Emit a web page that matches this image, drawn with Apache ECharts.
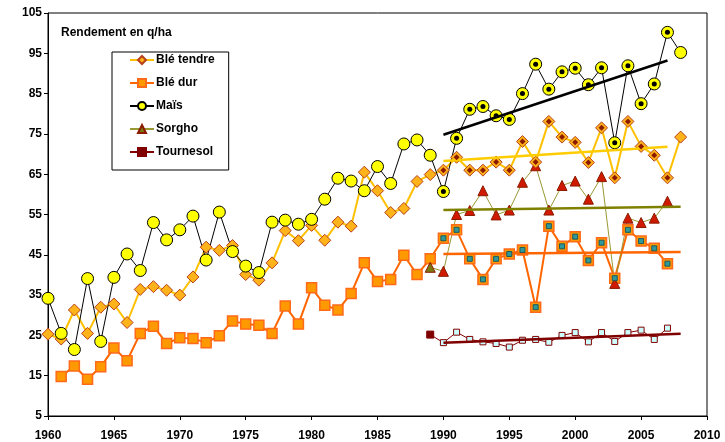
<!DOCTYPE html>
<html>
<head>
<meta charset="utf-8">
<script src="https://cdn.jsdelivr.net/npm/echarts@6/dist/echarts.min.js"></script>
<style>
  html, body { margin: 0; padding: 0; background: #fff; }
  #chart { width: 725px; height: 442px; }
</style>
</head>
<body>
<div id="chart"></div>
<script>
// années 1960 -> 2008
var firstYear = 1960;
var bleTendre = [25.3, 24.1, 31.3, 25.5, 32.0, 32.8, 28.2, 36.4, 37.1, 36.2,
  35.0, 39.5, 46.9, 46.1, 47.3, 40.1, 38.7, 43.0, 51.0, 48.5,
  52.3, 48.6, 53.1, 52.1, 65.5, 60.9, 55.5, 56.5, 63.2, 64.9,
  66.0, 69.2, 66.0, 66.0, 68.0, 66.0, 73.1, 68.0, 78.1, 74.2,
  72.9, 67.9, 76.5, 64.1, 78.1, 71.9, 69.7, 64.1, 74.2];
var bleDur = [null, 14.8, 17.4, 14.1, 17.2, 21.9, 18.7, 25.5, 27.3, 23.0,
  24.4, 24.2, 23.2, 24.9, 28.6, 27.8, 27.5, 25.5, 32.3, 27.8,
  36.8, 32.5, 31.3, 35.4, 43.0, 38.4, 38.9, 44.9, 40.1, 44.0,
  49.1, 51.2, 44.0, 38.9, 44.0, 45.2, 46.2, 32.0, 52.1, 47.1,
  49.5, 43.6, 48.0, 39.2, 51.2, 48.4, 46.6, 42.8];
var mais = [34.2, 25.5, 21.5, 39.1, 23.5, 39.4, 45.2, 41.1, 53.0, 48.7,
  51.2, 54.6, 43.7, 55.6, 45.8, 42.2, 40.6, 53.1, 53.6, 52.6,
  53.8, 58.8, 64.0, 63.3, 60.9, 66.9, 62.7, 72.5, 73.5, 69.7,
  60.7, 73.9, 81.1, 81.8, 79.5, 78.6, 85.0, 92.3, 86.1, 90.4,
  91.3, 87.2, 91.4, 72.8, 91.9, 82.5, 87.4, 100.2, 95.2];
// sorgho et tournesol à partir de 1989
var startLate = 1989;
var sorgho = [41.9, 40.9, 55.0, 56.0, 60.9, 54.9, 56.1, 63.0, 67.1, 56.1,
  62.2, 63.3, 58.8, 64.4, 37.9, 54.1, 53.0, 54.1, 58.3];
var tournesol = [25.2, 23.2, 25.8, 24.0, 23.4, 23.0, 22.1, 23.8, 24.0, 23.3,
  25.0, 25.7, 23.4, 25.7, 23.5, 25.7, 26.3, 24.0, 26.8];

// droites de tendance 1990 ->
var maisTrend = [[1990, 74.8], [2007, 93.2]];
var bleTendreTrend = [[1990, 68.3], [2007, 71.8]];
var bleDurTrend = [[1990, 45.2], [2008, 45.7]];
var sorghoTrend = [[1990, 56.1], [2008, 56.9]];
var tournesolTrend = [[1990, 23.2], [2008, 25.4]];

function pairs(start, arr) {
  return arr.map(function (v, i) { return [start + i, v]; });
}
// points de 1990 à 2007 (marqueurs "centre")
function late(start, arr) {
  return pairs(start, arr).filter(function (p) { return p[0] >= 1990 && p[0] <= 2007 && p[1] != null; });
}

var myChart = echarts.init(document.getElementById('chart'));

function trend(data, color, width) {
  return {
    type: 'line', data: data, symbol: 'none', silent: true,
    lineStyle: { color: color, width: width }, z: 4, animation: false
  };
}
function dots(data, symbol, size, color, border) {
  return {
    type: 'scatter', data: data, symbol: symbol, symbolSize: size, silent: true,
    itemStyle: { color: color, borderColor: border, borderWidth: border ? 1 : 0, opacity: 1 },
    z: 6, animation: false
  };
}

myChart.setOption({
  animation: false,
  backgroundColor: '#fff',
  textStyle: { fontFamily: 'Liberation Sans, Arial, sans-serif' },
  title: {
    text: 'Rendement en q/ha',
    left: 56, top: 22,
    textStyle: { fontSize: 12, fontWeight: 'bold', color: '#000' }
  },
  legend: {
    data: ['Blé tendre', 'Blé dur', 'Maïs', 'Sorgho', 'Tournesol'],
    orient: 'vertical',
    left: 112, top: 52,
    padding: [1, 14, 11, 17],
    itemGap: 9,
    itemWidth: 24, itemHeight: 10,
    backgroundColor: '#fff',
    borderColor: '#000', borderWidth: 1,
    textStyle: { fontSize: 12, fontWeight: 'bold', color: '#000', padding: [0, 0, 0, -3], lineHeight: 14 }
  },
  grid: {
    left: 48, top: 13, right: 18, bottom: 26,
    show: true, borderColor: '#000', borderWidth: 1
  },
  xAxis: {
    type: 'value', min: 1960, max: 2010, interval: 5,
    axisLine: { lineStyle: { color: '#000', width: 1 } },
    axisTick: { show: true, length: 4, lineStyle: { color: '#000' } },
    axisLabel: { color: '#000', fontSize: 12, fontWeight: 'bold', margin: 14,
      formatter: function (v) { return String(v); } },
    splitLine: { show: false }
  },
  yAxis: {
    type: 'value', min: 5, max: 105, interval: 10,
    axisLine: { show: true, lineStyle: { color: '#000', width: 1 } },
    axisTick: { show: true, length: 4, lineStyle: { color: '#000' } },
    axisLabel: { color: '#000', fontSize: 12, fontWeight: 'bold', margin: 6 },
    splitLine: { show: false }
  },
  series: [
    {
      name: 'Blé dur', type: 'line', data: pairs(firstYear, bleDur),
      symbol: 'rect', symbolSize: 10,
      lineStyle: { color: '#FF6600', width: 2 },
      itemStyle: { color: '#FF9900', borderColor: '#FF6A1A', borderWidth: 1.5 },
      z: 3
    },
    dots(late(firstYear, bleDur), 'rect', 5, '#2F9A9A', '#22575A'),
    {
      name: 'Sorgho', type: 'line', data: pairs(startLate, sorgho).map(function (p) {
        if (p[0] >= 1990) return { value: p, itemStyle: { color: '#D01A00', borderColor: '#8B1A00' } };
        return p;
      }),
      symbol: 'triangle', symbolSize: 10,
      lineStyle: { color: '#999933', width: 1 },
      itemStyle: { color: '#7A7A10', borderColor: '#8B1A00', borderWidth: 1 },
      z: 3
    },
    {
      name: 'Tournesol', type: 'line', data: pairs(startLate, tournesol).map(function (p) {
        if (p[0] >= 1990) return { value: p, symbol: 'rect', symbolSize: 6, itemStyle: { color: '#CCFFFF', borderColor: '#800000' } };
        return p;
      }),
      symbol: 'rect', symbolSize: 7,
      lineStyle: { color: '#800000', width: 1 },
      itemStyle: { color: '#800000', borderColor: '#800000', borderWidth: 1 },
      z: 3
    },
    {
      name: 'Blé tendre', type: 'line', data: pairs(firstYear, bleTendre),
      symbol: 'diamond', symbolSize: 12,
      lineStyle: { color: '#FFC000', width: 2 },
      itemStyle: { color: '#FFB31A', borderColor: '#B8401A', borderWidth: 1 },
      z: 3
    },
    dots(late(firstYear, bleTendre), 'diamond', 6, '#8B1A00', null),
    {
      name: 'Maïs', type: 'line', data: pairs(firstYear, mais),
      symbol: 'circle', symbolSize: 12,
      lineStyle: { color: '#000', width: 1 },
      itemStyle: { color: '#FFFF00', borderColor: '#000', borderWidth: 1 },
      z: 3
    },
    dots(late(firstYear, mais), 'circle', 5, '#000', null),
    trend(maisTrend, '#000', 2.5),
    trend(bleTendreTrend, '#FFCC00', 2.5),
    trend(bleDurTrend, '#FF6600', 2.5),
    trend(sorghoTrend, '#808000', 2.5),
    trend(tournesolTrend, '#800000', 2.5)
  ]
});
</script>
</body>
</html>
